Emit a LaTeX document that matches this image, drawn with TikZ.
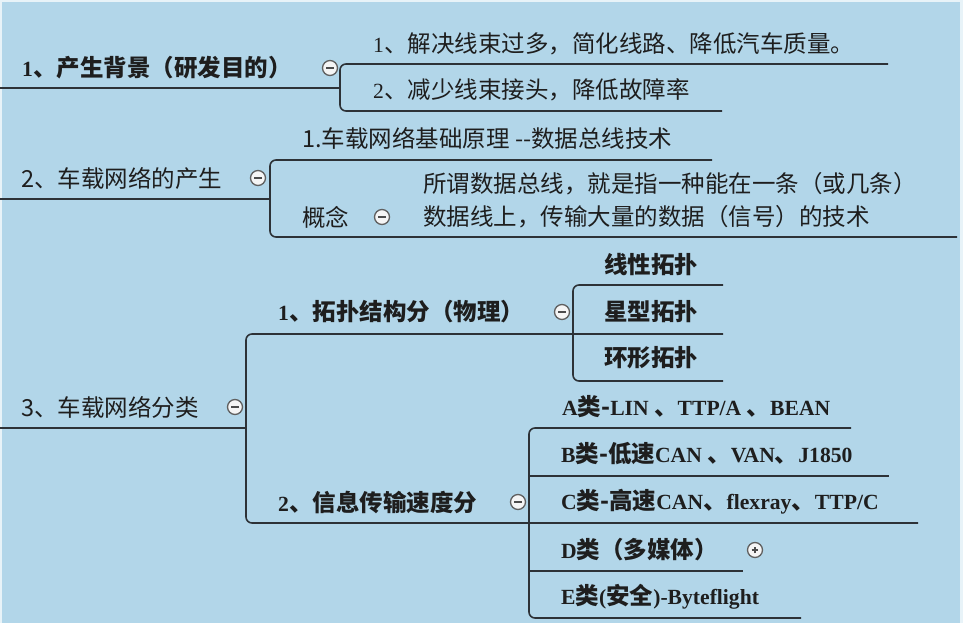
\documentclass[tikz,border=0pt]{standalone}
\usepackage{fontspec}
\setmainfont{Noto Sans CJK SC}
\newfontfamily\latf[Scale=0.92]{Liberation Serif}
\newcommand\LB[1]{{\latf\bfseries #1}}
\newcommand\LR[1]{{\latf #1}}
\definecolor{bg}{RGB}{178,214,233}
\definecolor{ln}{RGB}{45,50,55}
\definecolor{tx}{RGB}{30,30,30}
\tikzset{
 txt/.style={anchor=west, inner sep=0pt, text=tx, font=\fontsize{23.5}{33}\selectfont},
 btxt/.style={anchor=west, inner sep=0pt, text=tx, font=\fontsize{23.5}{33}\selectfont\bfseries},
 conn/.style={draw=ln, line width=1.6pt, rounded corners=6pt},
 tog/.style={circle, draw=gray!75!black, fill=gray!8, line width=1.3pt, minimum size=15pt, inner sep=0pt,
   path picture={\draw[line width=1.5pt, gray!60!black] ([xshift=-3.6pt]path picture bounding box.center) -- ([xshift=3.6pt]path picture bounding box.center);}},
 togp/.style={tog, path picture={\draw[line width=1.2pt, gray!60!black] ([xshift=-3.4pt]path picture bounding box.center) -- ([xshift=3.4pt]path picture bounding box.center) ([yshift=-3.4pt]path picture bounding box.center) -- ([yshift=3.4pt]path picture bounding box.center);}}
}
\begin{document}
\begin{tikzpicture}[x=1pt,y=-1pt]
\fill[white!70!bg] (0,0) rectangle (963,623);
\fill[bg] (2,2) rectangle (960,623);
\useasboundingbox (0,0) rectangle (963,623);

% ---- branch 1
\node[btxt] (r1) at (22,68) {\LB{1}、产生背景（研发目的）};
\node[tog] (t1) at (330,68) {};
\node[txt] (c11) at (373,44) {\LR{1}、解决线束过多，简化线路、降低汽车质量。};
\node[txt] (c12) at (373,90) {\LR{2}、减少线束接头，降低故障率};
\coordinate (r1a) at (0,88); \coordinate (r1b) at (340,88);
\coordinate (c11e) at (888,64); \coordinate (c12e) at (722,111);
\draw[conn] (r1a) -- (r1b);
\draw[conn] (c11e) -- (r1b |- c11e) -- (r1b |- c12e) -- (c12e);

% ---- branch 2
\node[txt] (r2) at (21,178) {2、车载网络的产生};
\node[tog] (t2) at (258,178) {};
\node[txt] (c21) at (302,138) {1.车载网络基础原理 -{}-数据总线技术};
\node[txt] (c22) at (302,217) {概念};
\node[tog] (t22) at (382,217) {};
\node[txt, align=left] (c221) at (423,200) {所谓数据总线，就是指一种能在一条（或几条）\\数据线上，传输大量的数据（信号）的技术};
\coordinate (r2a) at (0,199); \coordinate (r2b) at (270,199);
\coordinate (c21e) at (712,160); \coordinate (c22e) at (957,237);
\draw[conn] (r2a) -- (r2b);
\draw[conn] (c21e) -- (r2b |- c21e) -- (r2b |- c22e) -- (c22e);

% ---- branch 3
\node[txt] (r3) at (21,407) {3、车载网络分类};
\node[tog] (t3) at (235,407) {};
\coordinate (r3a) at (0,428); \coordinate (r3b) at (246,428);
\draw[conn] (r3a) -- (r3b);

\node[btxt] (s1) at (278,312) {\LB{1}、拓扑结构分（物理）};
\node[tog] (ts1) at (562,312) {};
\node[btxt] (s11) at (604,265) {线性拓扑};
\node[btxt] (s12) at (604,312) {星型拓扑};
\node[btxt] (s13) at (604,358) {环形拓扑};

\node[btxt] (s2) at (278,502) {\LB{2}、信息传输速度分};
\node[tog] (ts2) at (518,502) {};
\node[btxt] (a) at (562,407) {\LB{A}类-\LB{LIN }、\LB{TTP/A }、\LB{BEAN}};
\node[btxt] (b) at (561,454) {\LB{B}类-低速\LB{CAN }、\LB{VAN}、\LB{J1850}};
\node[btxt] (c) at (561,502) {\LB{C}类-高速\LB{CAN}、\LB{flexray}、\LB{TTP/C}};
\node[btxt] (d) at (561,550) {\LB{D}类（多媒体）};
\node[togp] (td) at (755,550) {};
\node[btxt] (e) at (561,597) {\LB{E}类\LB{(}安全\LB{)-Byteflight}};

\coordinate (s1e) at (723,334); \coordinate (s2e) at (918,523);
\draw[conn] (s1e) -- (r3b |- s1e) -- (r3b |- s2e) -- (s2e);

\coordinate (k) at (573,334);
\coordinate (s11e) at (723,285); \coordinate (s13e) at (723,381);
\draw[conn] (s11e) -- (k |- s11e) -- (k |- s13e) -- (s13e);

\coordinate (m) at (529,523);
\coordinate (ae) at (851,428); \coordinate (be) at (889,476);
\coordinate (de) at (743,571); \coordinate (ee) at (801,618);
\draw[conn] (ae) -- (m |- ae) -- (m |- ee) -- (ee);
\draw[conn] (m |- be) -- (be);
\draw[conn] (m |- de) -- (de);
\end{tikzpicture}
\end{document}
